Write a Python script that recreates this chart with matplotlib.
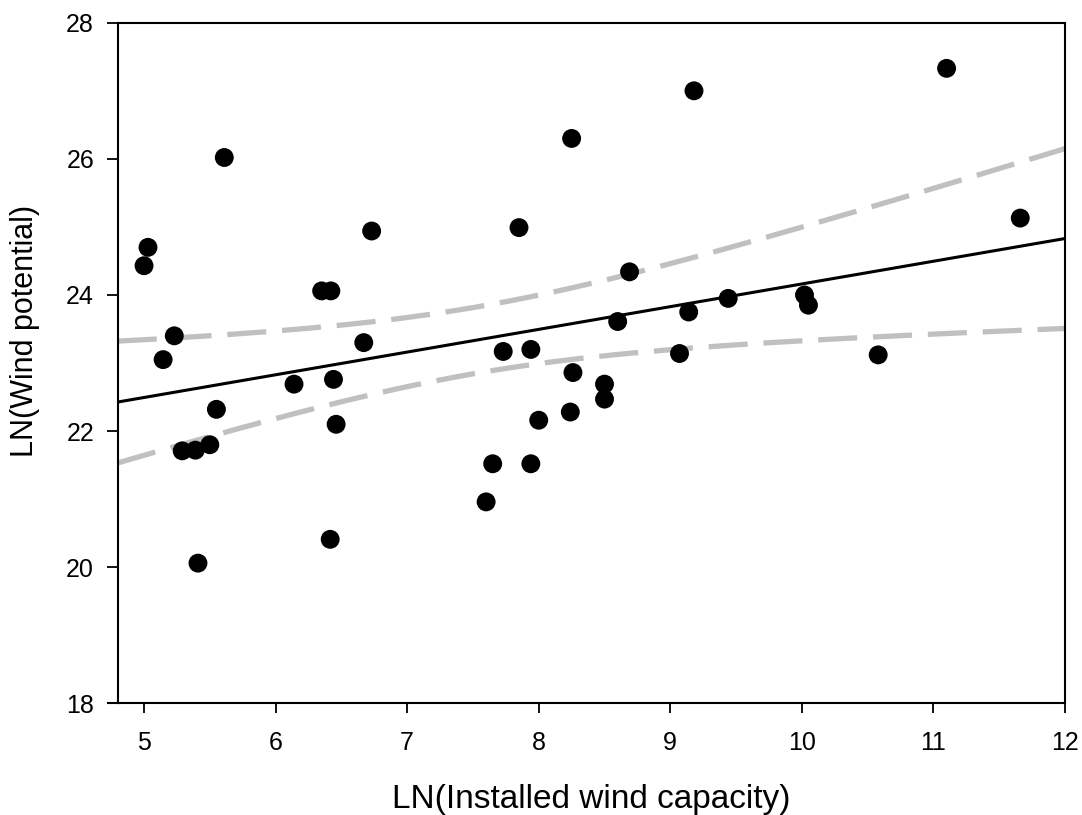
import numpy as np
import matplotlib.pyplot as plt
import matplotlib as mpl

mpl.rcParams['font.family'] = ['Liberation Sans', 'DejaVu Sans']

# values
ln_capacity = [5.00, 5.03, 5.145, 5.23, 5.29, 5.39, 5.41, 5.50, 5.55, 5.61,
               6.14, 6.35, 6.42, 6.415, 6.44, 6.46, 6.67, 6.73,
               7.60, 7.65, 7.73, 7.85, 7.94, 7.94, 8.00, 8.24, 8.25, 8.26,
               8.50, 8.50, 8.60, 8.69, 9.18, 9.07, 9.14, 9.44,
               10.02, 10.05, 10.58, 11.10, 11.66]
ln_potential = [24.43, 24.70, 23.05, 23.40, 21.71, 21.72, 20.06, 21.80, 22.32, 26.02,
                22.69, 24.06, 24.06, 20.41, 22.76, 22.10, 23.30, 24.94,
                20.96, 21.52, 23.17, 24.99, 23.20, 21.52, 22.16, 22.28, 26.30, 22.86,
                22.69, 22.47, 23.61, 24.34, 27.00, 23.14, 23.75, 23.95,
                24.00, 23.85, 23.12, 27.33, 25.13]

x = np.array(ln_capacity)
y = np.array(ln_potential)
n = len(x)

# linear regression with 95% confidence band of the mean
slope, intercept = np.polyfit(x, y, 1)
resid = y - (slope * x + intercept)
s = np.sqrt(np.sum(resid**2) / (n - 2))
sxx = np.sum((x - x.mean())**2)
t_crit = 2.0227  # t(0.975, df=39)
xg = np.linspace(4.8, 12, 200)
yg = slope * xg + intercept
half = t_crit * s * np.sqrt(1 / n + (xg - x.mean())**2 / sxx)

fig = plt.figure(figsize=(10.82, 8.15), dpi=100)
ax = fig.add_axes([0.1088, 0.137, 0.8755, 0.8351])

ax.plot(xg, yg + half, color='#c0c0c0', lw=3.8, ls=(0, (7.4, 3)), solid_capstyle='butt')
ax.plot(xg, yg - half, color='#c0c0c0', lw=3.8, ls=(0, (7.4, 3)), solid_capstyle='butt')
ax.plot(xg, yg, color='black', lw=2.2)
ax.scatter(x, y, s=185, color='black', edgecolors='none', zorder=3)

ax.set_xlim(4.8, 12)
ax.set_ylim(18, 28)
ax.set_xticks(range(5, 13))
ax.set_yticks(range(18, 29, 2))

for sp in ax.spines.values():
    sp.set_linewidth(1.5)
ax.tick_params(axis='x', direction='out', length=7, width=1.3, labelsize=18, pad=13)
ax.tick_params(axis='y', direction='out', length=8, width=1.3, labelsize=18, pad=9)

# bottom axis line runs a little past the left spine
ax.plot([-0.01, 0], [0, 0], transform=ax.transAxes, color='black', lw=1.5, clip_on=False)

ax.set_xlabel('LN(Installed wind capacity)', fontsize=24)
ax.set_ylabel('LN(Wind potential)', fontsize=22)
ax.xaxis.set_label_coords(0.5, -0.118)
ax.yaxis.set_label_coords(-0.082, 0.547)

fig.savefig('out.png', dpi=100)
